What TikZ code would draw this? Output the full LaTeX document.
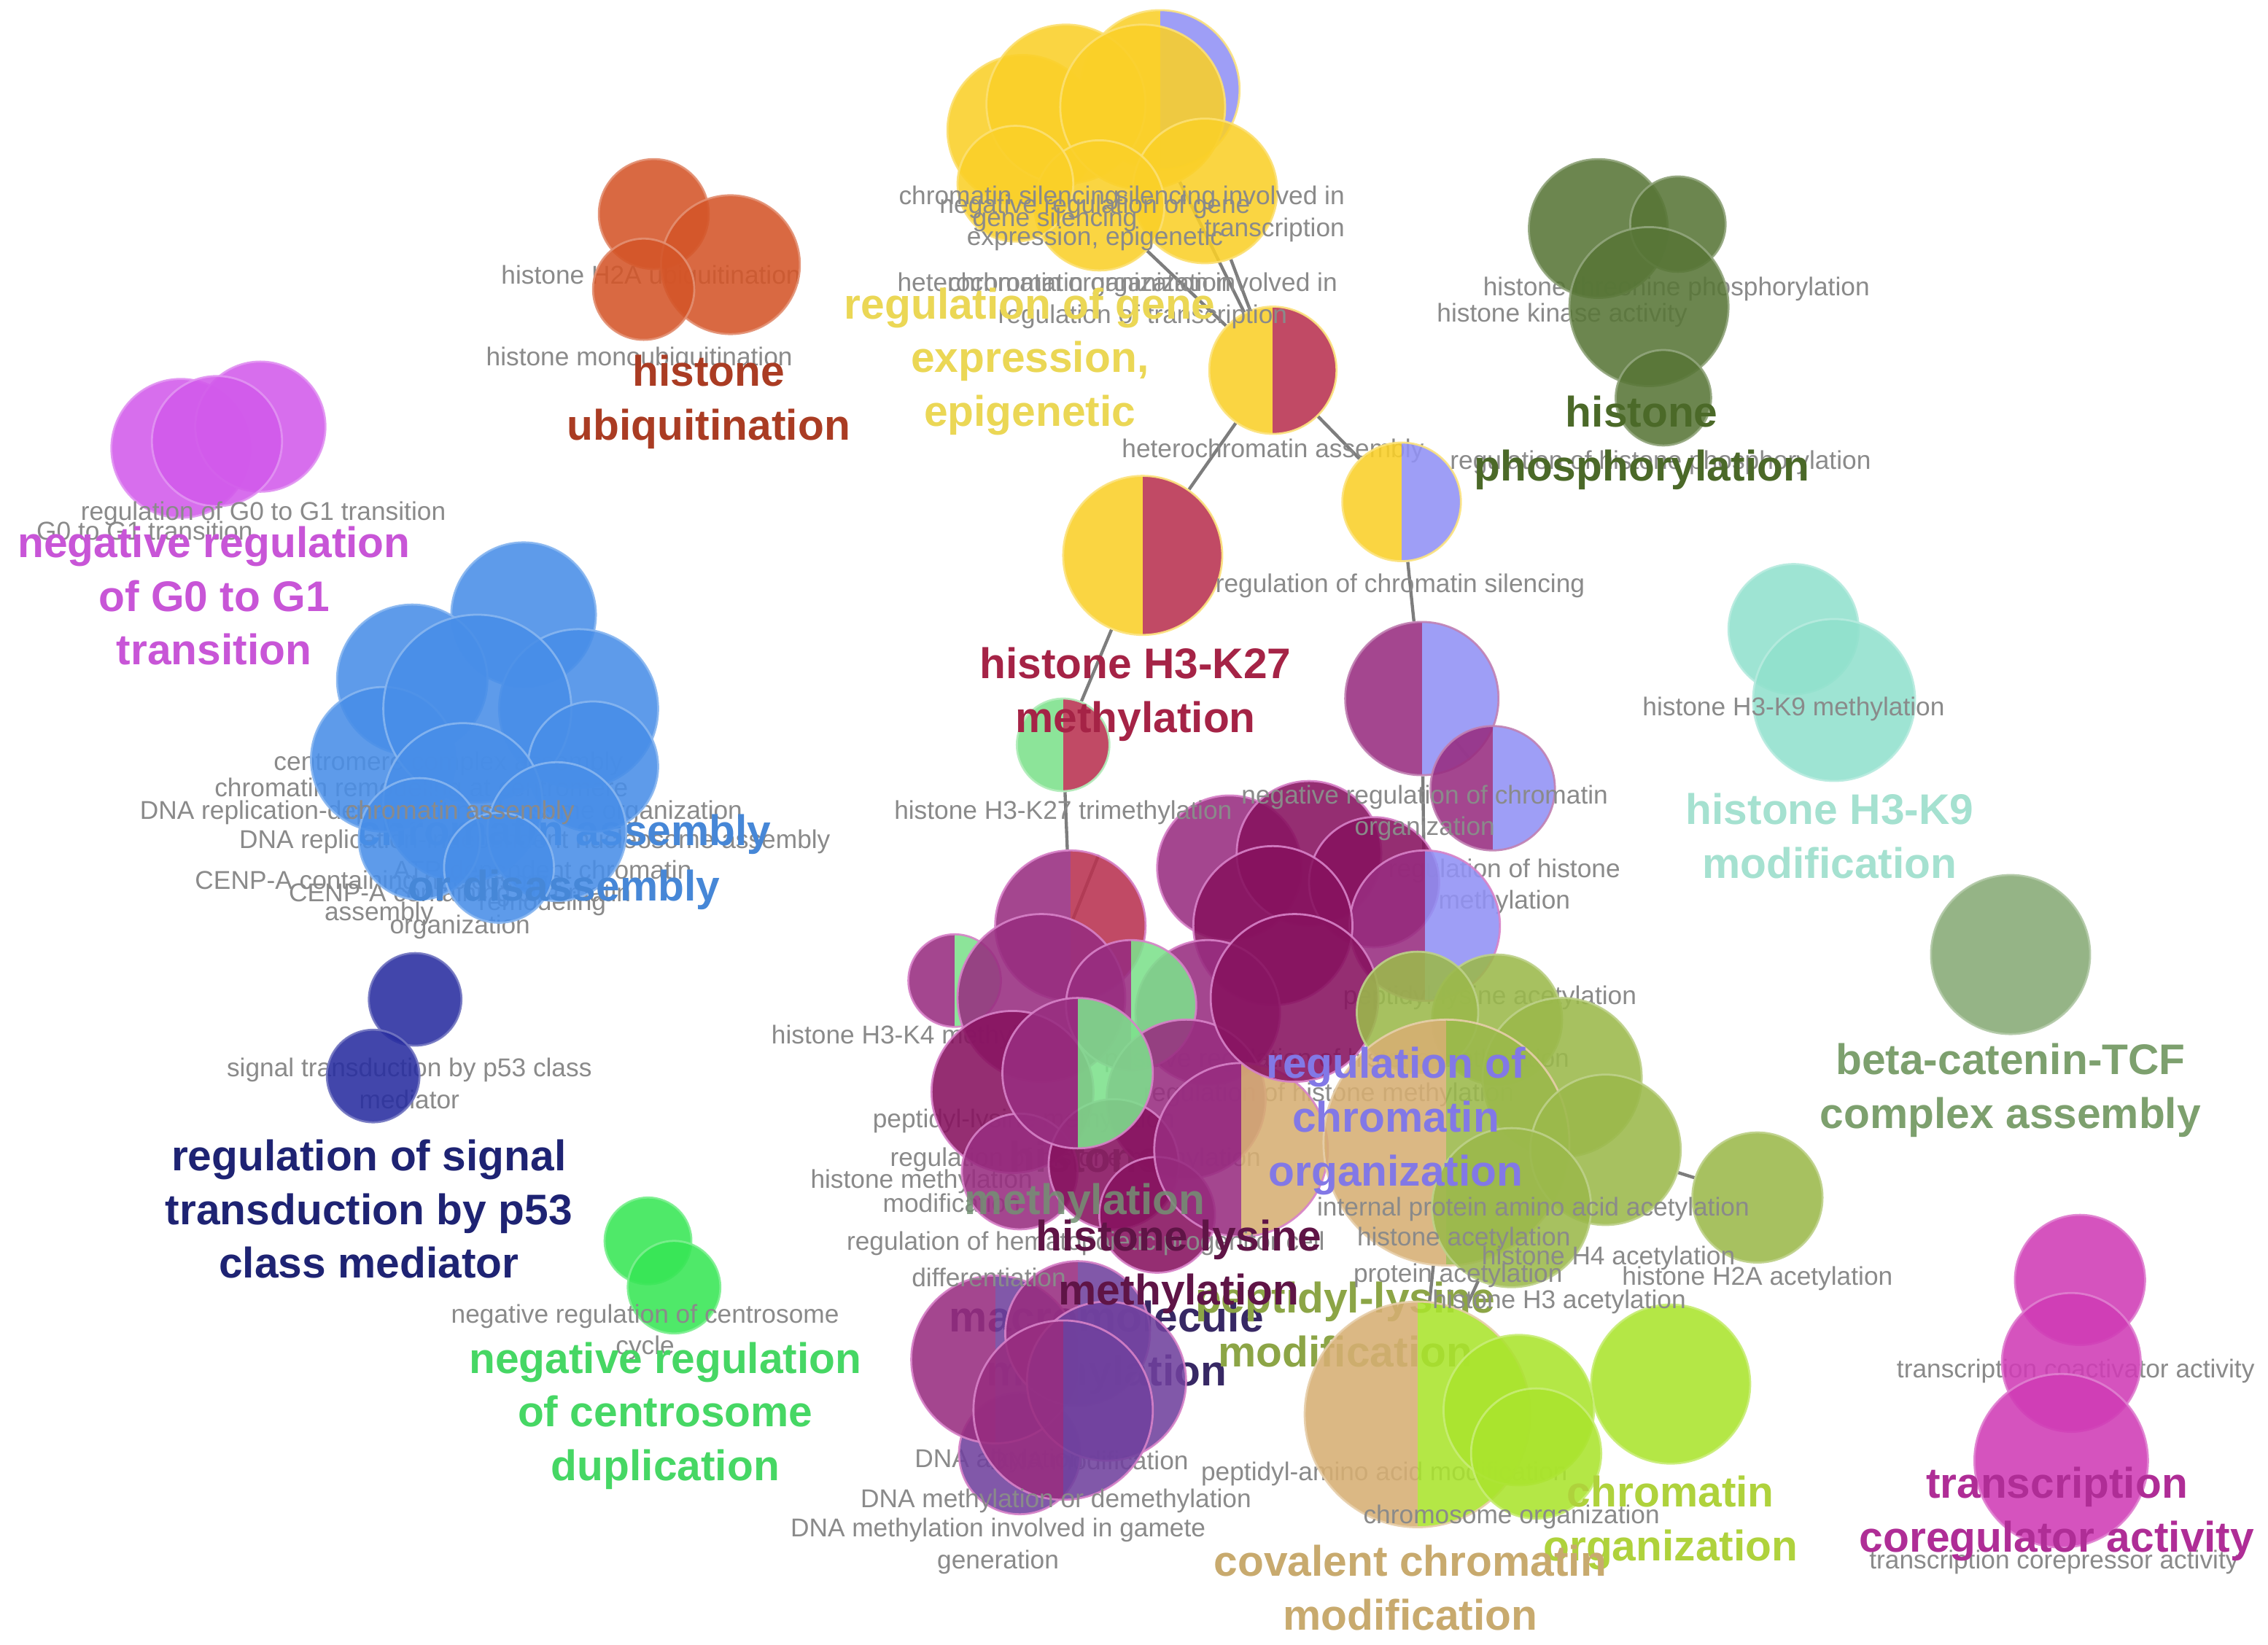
\documentclass[tikz,border=0pt]{standalone}
\usepackage{fontspec}
\setmainfont{Liberation Sans}
\pgfdeclarelayer{back}
\pgfsetlayers{back,main}
\definecolor{yel}{RGB}{250,208,40}
\definecolor{crim}{RGB}{185,50,80}
\definecolor{lav}{RGB}{145,145,245}
\definecolor{pm}{RGB}{152,45,128}
\definecolor{pd}{RGB}{135,18,95}
\definecolor{pb}{RGB}{215,130,200}
\definecolor{vio}{RGB}{112,65,158}
\definecolor{lgr}{RGB}{125,225,140}
\definecolor{oli}{RGB}{155,185,75}
\definecolor{tan}{RGB}{215,175,115}
\definecolor{lime}{RGB}{170,228,45}
\definecolor{blu}{RGB}{72,142,232}
\definecolor{mag}{RGB}{210,90,235}
\definecolor{ora}{RGB}{212,85,40}
\definecolor{dgr}{RGB}{88,118,55}
\definecolor{teal}{RGB}{145,225,205}
\definecolor{sage}{RGB}{135,170,118}
\definecolor{pink}{RGB}{208,60,182}
\definecolor{navy}{RGB}{40,45,160}
\definecolor{bgr}{RGB}{55,230,85}
\definecolor{lbl}{RGB}{138,138,138}
\definecolor{edgec}{RGB}{125,125,125}
% label colours
\definecolor{cA}{RGB}{55,40,100}
\definecolor{cB}{RGB}{140,165,70}
\definecolor{cC}{RGB}{200,85,215}
\definecolor{cD}{RGB}{170,60,35}
\definecolor{cE}{RGB}{235,215,85}
\definecolor{cF}{RGB}{75,105,40}
\definecolor{cG}{RGB}{165,35,70}
\definecolor{cH}{RGB}{165,225,208}
\definecolor{cI}{RGB}{70,135,215}
\definecolor{cJ}{RGB}{30,35,115}
\definecolor{cK}{RGB}{70,215,100}
\definecolor{cL}{RGB}{125,160,110}
\definecolor{cM}{RGB}{175,45,150}
\definecolor{cN}{RGB}{115,145,115}
\definecolor{cO}{RGB}{130,120,230}
\definecolor{cP}{RGB}{95,20,70}
\definecolor{cQ}{RGB}{175,210,60}
\definecolor{cR}{RGB}{200,170,110}
\begin{document}
\begin{tikzpicture}[x=0.5pt,y=-0.5pt,
  bub/.style={circle, inner sep=0pt, minimum size=#1*1pt, fill opacity=0.88, draw opacity=0.9, line width=0.7pt},
  col/.style={fill=#1, draw=#1!65!white},
  half/.style 2 args={path picture={
      \fill[#1] (path picture bounding box.south west) rectangle (path picture bounding box.north);
      \fill[#2] (path picture bounding box.south) rectangle (path picture bounding box.north east);},
      draw=#1!60!white},
  sm/.style={font=\fontsize{8.9}{11}\selectfont, text=lbl, align=center, inner sep=0pt},
  big/.style={font=\bfseries\fontsize{14.8}{18.6}\selectfont, text=#1, align=center, inner sep=0pt},
  edge/.style={draw=edgec, line width=1.1pt}]
\useasboundingbox (0,0) rectangle (1568,1137);
\begin{pgfonlayer}{back}
\fill[white] (0,0) rectangle (1568,1137);
\end{pgfonlayer}

% ---------- labels lying under the circles ----------
\node[sm] (s1) at (450,192) {histone H2A ubiquitination};
\node[sm] (s2) at (1159,200) {histone threonine phosphorylation};
\node[sm] (s3) at (1080,218) {histone kinase activity};
\node[sm] (s4) at (1435,948) {transcription coactivator activity};
\node[sm] (s5) at (283,749) {signal transduction by p53 class\\mediator};
\node[sm,anchor=west] (s6) at (148,546) {chromatin remodeling at centromere};
\node[sm] (s7) at (310,528) {centromere complex assembly};
\node[sm] (s8) at (305,562) {DNA replication-dependent nucleosome organization};
\node[sm,anchor=west] (s9) at (165,582) {DNA replication-independent nucleosome assembly};
\node[sm] (s10) at (262,621) {CENP-A containing nucleosome\\assembly};
\node[sm] (s11) at (318,630) {CENP-A containing chromatin\\organization};
\node[sm] (s12) at (375,614) {ATP-dependent chromatin\\remodeling};
\node[sm] (s13) at (880,312) {heterochromatin assembly};
\node[sm] (s14) at (1040,613) {regulation of histone\\methylation};
\node[sm,anchor=west] (s15) at (533,717) {histone H3-K4 methylation};
\node[sm,anchor=west] (s16) at (603,775) {peptidyl-lysine methylation};
\node[sm,anchor=west] (s17) at (615,802) {regulation of histone methylation};
\node[sm,anchor=west] (s18) at (560,817) {histone methylation};
\node[sm,anchor=west] (s19) at (610,832) {modification};
\node[sm,anchor=west] (s20) at (763,733) {positive regulation of histone methylation};
\node[sm,anchor=west] (s21) at (790,757) {regulation of histone methylation};
\node[sm,anchor=west] (s22) at (632,1010) {DNA alkylation};
\node[sm,anchor=east] (s23) at (822,1010) {DNA modification};
\node[sm,anchor=west] (s24) at (830,1019) {peptidyl-amino acid modification};
\node[sm] (s25) at (1030,690) {peptidyl-lysine acetylation};
\node[big=cI] (L9a) at (390,577) {chromatin assembly};
\node[big=cN] (L14a) at (750,800) {histone};

% ---------- magenta ----------
\node[bub=48,col=mag] (g1) at (125,310) {};
\node[bub=45,col=mag] (g2) at (180,295) {};
\node[bub=45,col=mag] (g3) at (150,305) {};
% ---------- orange ----------
\node[bub=38,col=ora] (u1) at (452,148) {};
\node[bub=48,col=ora] (u2) at (505,183) {};
\node[bub=35,col=ora] (u3) at (445,200) {};
% ---------- dark green ----------
\node[bub=48,col=dgr] (h1) at (1105,158) {};
\node[bub=33,col=dgr] (h2) at (1160,155) {};
\node[bub=55,col=dgr] (h3) at (1140,212) {};
\node[bub=33,col=dgr] (h4) at (1150,275) {};
% ---------- teal ----------
\node[bub=45,col=teal] (k1) at (1240,435) {};
\node[bub=56,col=teal] (k2) at (1268,484) {};
% ---------- sage ----------
\node[bub=55,col=sage] (c1) at (1390,660) {};
% ---------- pink ----------
\node[bub=45,col=pink] (tr1) at (1438,885) {};
\node[bub=48,col=pink] (tr2) at (1432,942) {};
\node[bub=60,col=pink] (tr3) at (1425,1010) {};
% ---------- navy ----------
\node[bub=32,col=navy] (n1) at (287,691) {};
\node[bub=32,col=navy] (n2) at (258,744) {};
% ---------- bright green ----------
\node[bub=30,col=bgr] (m1) at (448,858) {};
\node[bub=32,col=bgr] (m2) at (466,890) {};
% ---------- blue ----------
\node[bub=50,col=blu] (b1) at (362,425) {};
\node[bub=52,col=blu] (b2) at (285,470) {};
\node[bub=55,col=blu] (b3) at (400,490) {};
\node[bub=50,col=blu] (b4) at (265,525) {};
\node[bub=65,col=blu] (b5) at (330,490) {};
\node[bub=45,col=blu] (b6) at (410,530) {};
\node[bub=55,col=blu] (b7) at (320,555) {};
\node[bub=48,col=blu] (b8) at (385,575) {};
\node[bub=42,col=blu] (b9) at (290,580) {};
\node[bub=38,col=blu] (b10) at (345,600) {};
% ---------- yellow ----------
\node[bub=55,half={yel}{lav}] (y3) at (802,62) {};
\node[bub=52,col=yel] (y1) at (707,90) {};
\node[bub=55,col=yel] (y5) at (737,72) {};
\node[bub=57,col=yel] (y2) at (790,74) {};
\node[bub=50,col=yel] (y4) at (833,132) {};
\node[bub=45,col=yel] (y6) at (760,142) {};
\node[bub=40,col=yel] (y7) at (702,127) {};
% ---------- chain ----------
\node[bub=44,half={yel}{crim}] (A) at (880,256) {};
\node[bub=55,half={yel}{crim}] (B) at (790,384) {};
\node[bub=41,half={yel}{lav}] (C) at (969,347) {};
\node[bub=53,half={pm}{lav}] (D) at (983,483) {};
\node[bub=43,half={pm}{lav}] (E) at (1032,545) {};
\node[bub=32,half={lgr}{crim}] (F) at (735,515) {};
% ---------- purple cluster ----------
\node[bub=50,col=pm,draw=pb] (p1) at (850,600) {};
\node[bub=50,col=pd,draw=pb] (p2) at (905,590) {};
\node[bub=45,col=pd,draw=pb] (p3) at (950,610) {};
\node[bub=52,half={pm}{lav},draw=pb] (p4) at (985,640) {};
\node[bub=55,col=pd,draw=pb] (p5) at (880,640) {};
\node[bub=50,col=pm,draw=pb] (p7) at (835,700) {};
\node[bub=52,half={pm}{crim},draw=pb] (G) at (740,640) {};
\node[bub=32,half={pm}{lgr},draw=pb] (p8) at (660,678) {};
\node[bub=58,col=pm,draw=pb] (p9) at (720,690) {};
\node[bub=45,half={pm}{lgr},draw=pb] (p10) at (782,695) {};
\node[bub=56,col=pd,draw=pb] (p11) at (700,755) {};
\node[bub=55,col=pm,draw=pb] (p13) at (820,760) {};
\node[bub=40,col=pm,draw=pb] (p15) at (705,810) {};
\node[bub=45,col=pd,draw=pb] (p16) at (770,805) {};
\node[bub=40,col=pd,draw=pb] (p17) at (800,840) {};
\node[bub=52,half={pm}{lgr},draw=pb] (p12) at (745,742) {};
\node[bub=60,half={pm}{tan},draw=pb] (S2) at (858,795) {};
\node[bub=58,col=pd,draw=pb] (p6) at (895,690) {};
% ---------- big labels under later circles ----------
\node[big=cA] (L6) at (765,932) {macromolecule\\methylation};
\node[big=cB] (L7) at (930,916) {peptidyl-lysine\\modification};
% ---------- violet cluster ----------
\node[bub=42,col=vio,draw=pb] (v4) at (705,1005) {};
\node[bub=58,half={pm}{vio},draw=pb] (v1) at (688,940) {};
\node[bub=50,half={pm}{vio},draw=pb] (v2) at (745,922) {};
\node[bub=55,col=vio,draw=pb] (v5) at (765,955) {};
\node[bub=62,half={pm}{vio},draw=pb] (v3) at (735,975) {};
% ---------- olive cluster ----------
\node[bub=45,col=oli] (o1) at (1035,705) {};
\node[bub=42,col=oli] (o2) at (980,700) {};
\node[bub=55,col=oli] (o3) at (1080,745) {};
\node[bub=85,half={tan}{oli}] (S1) at (1000,790) {};
\node[bub=52,col=oli] (o4) at (1110,795) {};
\node[bub=55,col=oli] (o5) at (1045,835) {};
\node[bub=45,col=oli] (o6) at (1215,828) {};
% ---------- lime ----------
\node[bub=55,col=lime] (L1) at (1155,957) {};
\node[bub=78,half={tan}{lime}] (L2) at (980,978) {};
\node[bub=52,col=lime] (L3) at (1050,975) {};
\node[bub=45,col=lime] (L4) at (1062,1005) {};

% ---------- labels on top of circles ----------
\node[sm,anchor=west] (t1) at (621,137) {chromatin silencing};
\node[sm,anchor=west] (t2) at (672,152) {gene silencing};
\node[sm] (t3) at (757,154) {negative regulation of gene\\expression, epigenetic};
\node[sm,align=right,anchor=east] (t4) at (930,148) {silencing involved in\\transcription};
\node[sm,anchor=west] (t5) at (620,197) {heterochromatin organization};
\node[sm] (t6) at (790,208) {chromatin organization involved in\\regulation of transcription};
\node[sm] (t7) at (968,405) {regulation of chromatin silencing};
\node[sm] (t8) at (985,562) {negative regulation of chromatin\\organization};
\node[sm] (t9) at (735,562) {histone H3-K27 trimethylation};
\node[sm] (t10) at (1148,320) {regulation of histone phosphorylation};
\node[sm] (t11) at (182,355) {regulation of G0 to G1 transition};
\node[sm] (t12) at (100,367) {G0 to G1 transition};
\node[sm] (t13) at (442,248) {histone monoubiquitination};
\node[sm] (t14) at (1240,490) {histone H3-K9 methylation};
\node[sm] (t15) at (1420,1080) {transcription corepressor activity};
\node[sm] (t16) at (446,921) {negative regulation of centrosome\\cycle};
\node[sm] (t17) at (318,562) {chromatin assembly};
\node[sm] (t18) at (1012,857) {histone acetylation};
\node[sm] (t19) at (1008,882) {protein acetylation};
\node[sm] (t20) at (1112,870) {histone H4 acetylation};
\node[sm] (t21) at (1078,900) {histone H3 acetylation};
\node[sm] (t22) at (1215,884) {histone H2A acetylation};
\node[sm] (t23) at (1060,836) {internal protein amino acid acetylation};
\node[sm] (t24) at (730,1038) {DNA methylation or demethylation};
\node[sm] (t25) at (690,1069) {DNA methylation involved in gamete\\generation};
\node[sm] (t26) at (1045,1049) {chromosome organization};
\node[sm,anchor=west] (t27) at (585,860) {regulation of hematopoietic progenitor cell};
\node[sm,anchor=west] (t28) at (630,883) {differentiation};

% ---------- big cluster labels ----------
\node[big=cC] (L1b) at (148,412) {negative regulation\\of G0 to G1\\transition};
\node[big=cD] (L2b) at (490,278) {histone\\ubiquitination};
\node[big=cE] (L3b) at (712,250) {regulation of gene\\expression,\\epigenetic};
\node[big=cF] (L4b) at (1135,306) {histone\\phosphorylation};
\node[big=cG] (L5b) at (785,480) {histone H3-K27\\methylation};
\node[big=cH] (L8b) at (1265,578) {histone H3-K9\\modification};
\node[big=cI] (L9b) at (390,615) {or disassembly};
\node[big=cJ] (L10b) at (255,836) {regulation of signal\\transduction by p53\\class mediator};
\node[big=cK] (L11b) at (460,979) {negative regulation\\of centrosome\\duplication};
\node[big=cL] (L12b) at (1390,754) {beta-catenin-TCF\\complex assembly};
\node[big=cM] (L13b) at (1422,1047) {transcription\\coregulator activity};
\node[big=cN,opacity=0.85] (L14b) at (750,832) {methylation};
\node[big=cO] (L15b) at (965,775) {regulation of\\chromatin\\organization};
\node[big=cP] (L16b) at (815,876) {histone lysine\\methylation};
\node[big=cQ] (L17b) at (1155,1053) {chromatin\\organization};
\node[big=cR] (L18b) at (975,1098) {covalent chromatin\\modification};

% ---------- connectors ----------
\begin{pgfonlayer}{back}
\draw[edge] (y6) -- (A);
\draw[edge] (y4) -- (A);
\draw[edge] (y2) -- (A);
\draw[edge] (A) -- (B);
\draw[edge] (A) -- (C);
\draw[edge] (C) -- (D);
\draw[edge] (D) -- (E);
\draw[edge] (D) -- (p4);
\draw[edge] (B) -- (F);
\draw[edge] (F) -- (G);
\draw[edge] (G) -- (p9);
\draw[edge] (o4) -- (o6);
\draw[edge] (o5) -- (L2);
\draw[edge] (L3) -- (L1);
\draw[edge] (S1) -- (L2);
\end{pgfonlayer}
\end{tikzpicture}
\end{document}
